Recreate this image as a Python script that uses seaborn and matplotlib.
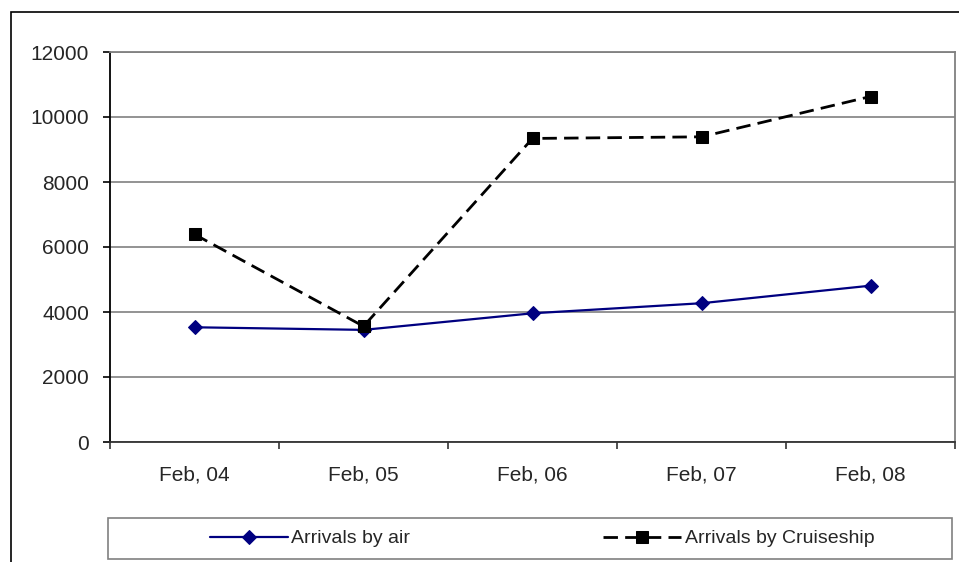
import matplotlib
matplotlib.use("Agg")
import matplotlib.pyplot as plt
import pandas as pd
import seaborn as sns
from matplotlib.patches import Rectangle
from matplotlib.ticker import FixedLocator

# ---------------- DATA ----------------
years = ["Feb, 04", "Feb, 05", "Feb, 06", "Feb, 07", "Feb, 08"]
air = [3530, 3450, 3960, 4270, 4810]
cruise = [6390, 3560, 9340, 9390, 10630]

df = pd.DataFrame({"pos": range(len(years)), "air": air, "cruise": cruise})

# ---------------- STYLE ----------------
sns.set_theme(style="white")
plt.rcParams["font.family"] = ["Liberation Sans", "DejaVu Sans"]

W, H = 959, 562
fig = plt.figure(figsize=(W / 100, H / 100), dpi=100)
ax = fig.add_axes([110 / W, 1 - 442 / H, (955 - 110) / W, (442 - 52) / H])

# outer chart frame (only left/top visible)
fig.patches.append(Rectangle((11 / W, -0.2), 1.2, 1 - 12 / H + 0.2,
                             transform=fig.transFigure, fill=False,
                             edgecolor="black", linewidth=1.2, zorder=0))

# ---------------- LINES ----------------
sns.lineplot(data=df, x="pos", y="air", ax=ax, color="#000080",
             linewidth=1.6, marker="D", markersize=7,
             markeredgecolor="#000080", label="Arrivals by air")
sns.lineplot(data=df, x="pos", y="cruise", ax=ax, color="black",
             linewidth=2, marker="s", markersize=8.5, markeredgecolor="black",
             dashes=False, label="Arrivals by Cruiseship")
ax.lines[1].set_dashes([5.2, 2.6])

# ---------------- AXES ----------------
ax.set_xlim(-0.5, len(years) - 0.5)
ax.set_ylim(0, 12000)
ax.set_yticks(range(0, 12001, 2000))
ax.set_yticklabels([str(v) for v in range(0, 12001, 2000)], fontsize=15)
ax.yaxis.grid(True, color="#808080", linewidth=1.2)
ax.set_axisbelow(True)

ax.set_xticks(range(len(years)))
ax.set_xticklabels(years, fontsize=15)
ax.xaxis.set_minor_locator(FixedLocator([i - 0.5 for i in range(len(years) + 1)]))
ax.tick_params(axis="x", which="major", length=0, pad=17)
ax.tick_params(axis="x", which="minor", length=5, width=1.2, color="#333333", direction="out", bottom=True)
ax.tick_params(axis="y", length=5, width=1.2, color="black", direction="out", left=True, pad=10)
ax.set_xlabel("")
ax.set_ylabel("")

ax.spines["left"].set_color("black")
ax.spines["left"].set_linewidth(1.3)
ax.spines["bottom"].set_color("#333333")
ax.spines["bottom"].set_linewidth(1.3)
for s in ["top", "right"]:
    ax.spines[s].set_color("#808080")
    ax.spines[s].set_linewidth(1.3)

# ---------------- LEGEND ----------------
handles, labels = ax.get_legend_handles_labels()
ax.get_legend().remove()
fig.patches.append(Rectangle((108 / W, 1 - 559 / H), (952 - 108) / W, (559 - 518) / H,
                             transform=fig.transFigure, fill=False,
                             edgecolor="#808080", linewidth=1.2))
fig.legend(handles, labels, loc="center", ncol=2, frameon=False,
           bbox_to_anchor=(542 / W, 1 - 538.5 / H), fontsize=14,
           handlelength=4, handletextpad=0.2, columnspacing=9.9)

fig.savefig("out.png", dpi=100, facecolor="white")
plt.close(fig)
